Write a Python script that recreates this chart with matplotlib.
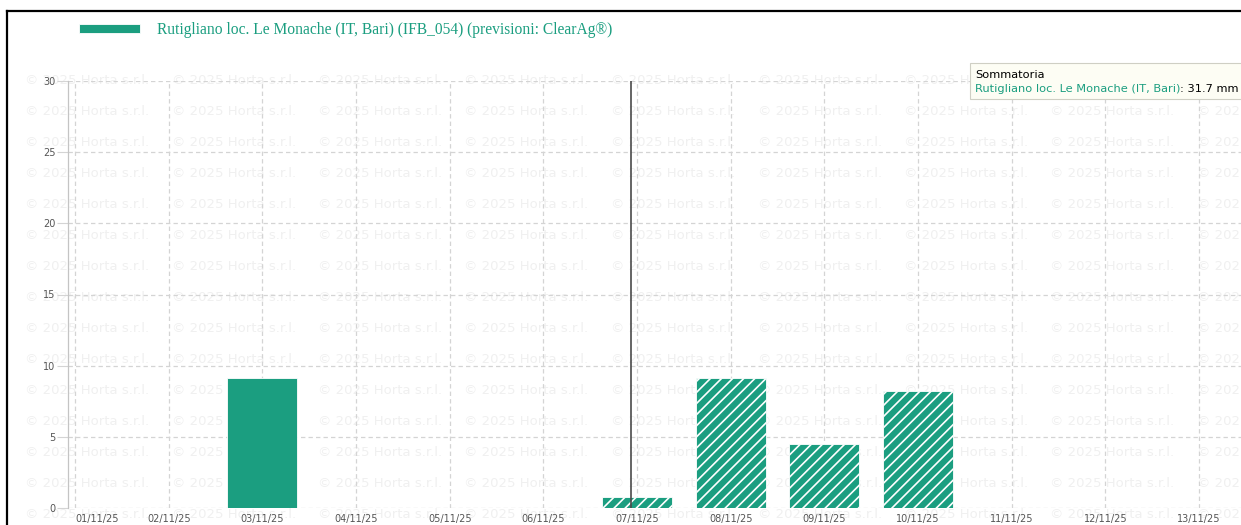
import numpy as np
import matplotlib
matplotlib.use('Agg')
import matplotlib.pyplot as plt
from matplotlib.patches import Rectangle
from matplotlib.lines import Line2D

# data
dates = ['01/11/25', '02/11/25', '03/11/25', '04/11/25', '05/11/25', '06/11/25', '07/11/25',
         '08/11/25', '09/11/25', '10/11/25', '11/11/25', '12/11/25', '13/11/25']
rain_mm = [0, 0, 9.1, 0, 0, 0, 0.8, 9.1, 4.5, 8.2, 0, 0, 0]
forecast = [False, False, False, False, False, False, True, True, True, True, True, True, True]
station = 'Rutigliano loc. Le Monache (IT, Bari)'
legend_label = station + ' (IFB_054) (previsioni: ClearAg®)'
total_label = 'Sommatoria'
total_mm = 31.7
cursor_pos = 5.94
y_ticks = [0, 5, 10, 15, 20, 25, 30]

teal = '#1b9e80'
grid_col = '#d4d4d4'
W, H = 1241, 525

plt.rcParams['hatch.linewidth'] = 1.2
plt.rcParams['font.family'] = 'DejaVu Sans'

fig = plt.figure(figsize=(W / 100, H / 100), dpi=100)
fig.patch.set_facecolor('white')
ax = fig.add_axes([68 / W, (H - 508) / H, 1 - 68 / W, (508 - 81) / H])
ax.set_zorder(1)
ax.patch.set_alpha(0)

x = np.arange(len(dates))
solid = [v if not f else 0 for v, f in zip(rain_mm, forecast)]
pred = [v if f else 0 for v, f in zip(rain_mm, forecast)]
ax.bar(x, solid, width=0.75, color=teal, edgecolor='white', linewidth=0.6, zorder=3,
       label=legend_label)
ax.bar(x, pred, width=0.75, color=teal, edgecolor='white', linewidth=0.6, hatch='///', zorder=3)

ax.axvline(cursor_pos, color='#4a4a4a', lw=1.2, zorder=4)

ax.set_xlim(-0.075, 12.448)
ax.set_ylim(0, 30)
ax.set_xticks(x)
ax.set_xticklabels(dates)
ax.set_yticks(y_ticks)
ax.tick_params(axis='x', length=0, pad=4.5, labelsize=7, labelcolor='#555555')
ax.tick_params(axis='y', length=8, width=0.8, color=grid_col, pad=1, labelsize=7,
               labelcolor='#555555')
ax.get_xticklabels()[0].set_ha('left')
ax.grid(True, color=grid_col, lw=0.9, linestyle=(0, (3.5, 2.5)), zorder=1)
for s in ['top', 'right', 'bottom']:
    ax.spines[s].set_visible(False)
ax.spines['left'].set_color('#c4c4c4')
ax.spines['left'].set_linewidth(0.9)

# watermark
for yy in np.linspace(81, 514, 15):
    for xx in np.arange(25, W, 146.5):
        fig.text(xx / W, 1 - yy / H, '© 2025 Horta s.r.l.', fontsize=9.5, color='#f0f0f0',
                 ha='left', va='center', zorder=0)

# legend
fig.legend(loc='center left', bbox_to_anchor=(79 / W, 1 - 30 / H), frameon=False,
           handlelength=3.92, handleheight=0.52, handletextpad=1.09, borderpad=0,
           borderaxespad=0, labelcolor=teal,
           prop={'family': 'Liberation Serif', 'size': 11.2})

# tooltip
fig.patches.append(Rectangle((970 / W, 1 - 99 / H), 280 / W, 36 / H, transform=fig.transFigure,
                             facecolor='#fdfdf4', edgecolor='#cfcfc4', lw=0.8, zorder=6))
fig.text(975 / W, 1 - 75 / H, total_label, fontsize=8.2, color='black', va='center', zorder=7)
t1 = fig.text(975 / W, 1 - 89 / H, station, fontsize=8.2, color=teal, va='center', zorder=7)
r = fig.canvas.get_renderer()
bb = t1.get_window_extent(renderer=r)
fig.text(bb.x1 / W, 1 - 89 / H, ': %.1f mm' % total_mm, fontsize=8.2, color='black',
         va='center', zorder=7)

# frame
fig.lines.append(Line2D([7 / W, 7 / W], [0, 1 - 11 / H], transform=fig.transFigure,
                        color='black', lw=1.6, zorder=10))
fig.lines.append(Line2D([7 / W, 1], [1 - 11 / H, 1 - 11 / H], transform=fig.transFigure,
                        color='black', lw=1.6, zorder=10))

fig.savefig('out.png', dpi=100)
